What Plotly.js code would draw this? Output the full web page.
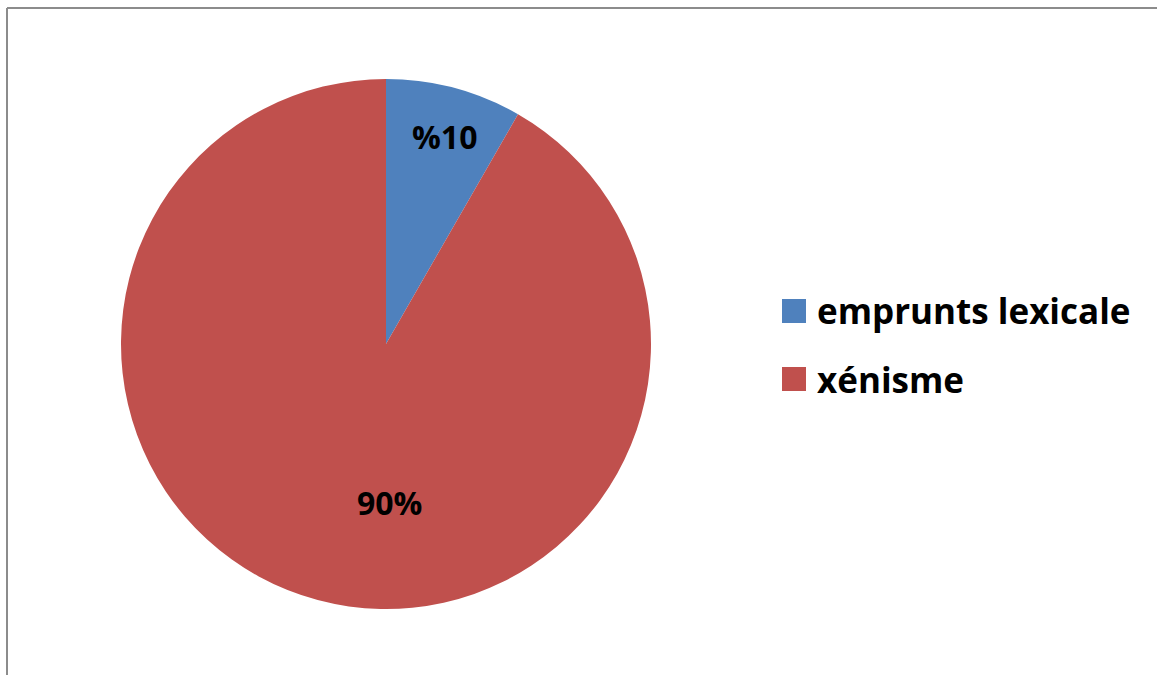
<!DOCTYPE html>
<html>
<head>
<meta charset="utf-8">
<script src="https://cdn.plot.ly/plotly-3.0.1.min.js"></script>
<style>html,body{margin:0;padding:0;background:#fff;}#chart{width:1157px;height:675px;}</style>
</head>
<body>
<div id="chart"></div>
<script>
var labels = ["emprunts lexicale", "xénisme"];
var values = [8.3, 91.7];
var dataLabels = ["%10", "90%"];
var colors = ["#4F81BD", "#C0504D"];

var W = 1157, H = 675;
var FONT = "'Open Sans', Lato, sans-serif";

// pie geometry (pixels)
var cx = 386, cy = 344, R = 265;
var px = function (x) { return x / W; };
var py = function (y) { return 1 - y / H; };

var trace = {
  type: "pie",
  labels: labels,
  values: values,
  marker: { colors: colors, line: { width: 0 } },
  sort: false,
  direction: "clockwise",
  rotation: 0,
  textinfo: "none",
  hoverinfo: "label+percent",
  showlegend: false,
  domain: { x: [px(cx - R), px(cx + R)], y: [py(cy + R), py(cy - R)] }
};

// data label placement (pixel positions, Excel-like layout)
var labelPos = [[444, 136], [389, 502]];
var annotations = [];
for (var i = 0; i < labels.length; i++) {
  annotations.push({
    xref: "paper", yref: "paper",
    x: px(labelPos[i][0]), y: py(labelPos[i][1]),
    xanchor: "center", yanchor: "middle",
    text: "<b>" + dataLabels[i] + "</b>",
    showarrow: false,
    font: { family: FONT, size: 32, color: "#000" }
  });
}

// border + custom legend
var shapes = [
  { type: "line", xref: "paper", yref: "paper", x0: px(7), x1: 1, y0: py(8), y1: py(8), line: { color: "#8c8c8c", width: 2 } },
  { type: "line", xref: "paper", yref: "paper", x0: px(7), x1: px(7), y0: py(8), y1: 0, line: { color: "#8c8c8c", width: 2 } }
];
var legX = 782, legY0 = 311, legStep = 68, sq = 24;
for (var j = 0; j < labels.length; j++) {
  var ly = legY0 + j * legStep;
  shapes.push({
    type: "rect", xref: "paper", yref: "paper",
    x0: px(legX), x1: px(legX + sq), y0: py(ly + sq / 2), y1: py(ly - sq / 2),
    fillcolor: colors[j], line: { width: 0 }
  });
  annotations.push({
    xref: "paper", yref: "paper",
    x: px(legX + sq + 9), y: py(ly),
    xanchor: "left", yanchor: "middle",
    text: "<b>" + labels[j] + "</b>",
    showarrow: false,
    font: { family: FONT, size: 35, color: "#000" }
  });
}

var layout = {
  width: W, height: H,
  margin: { l: 0, r: 0, t: 0, b: 0 },
  paper_bgcolor: "#fff",
  plot_bgcolor: "#fff",
  showlegend: false,
  shapes: shapes,
  annotations: annotations
};

Plotly.newPlot("chart", [trace], layout, { displayModeBar: false, staticPlot: true });
</script>
</body>
</html>
